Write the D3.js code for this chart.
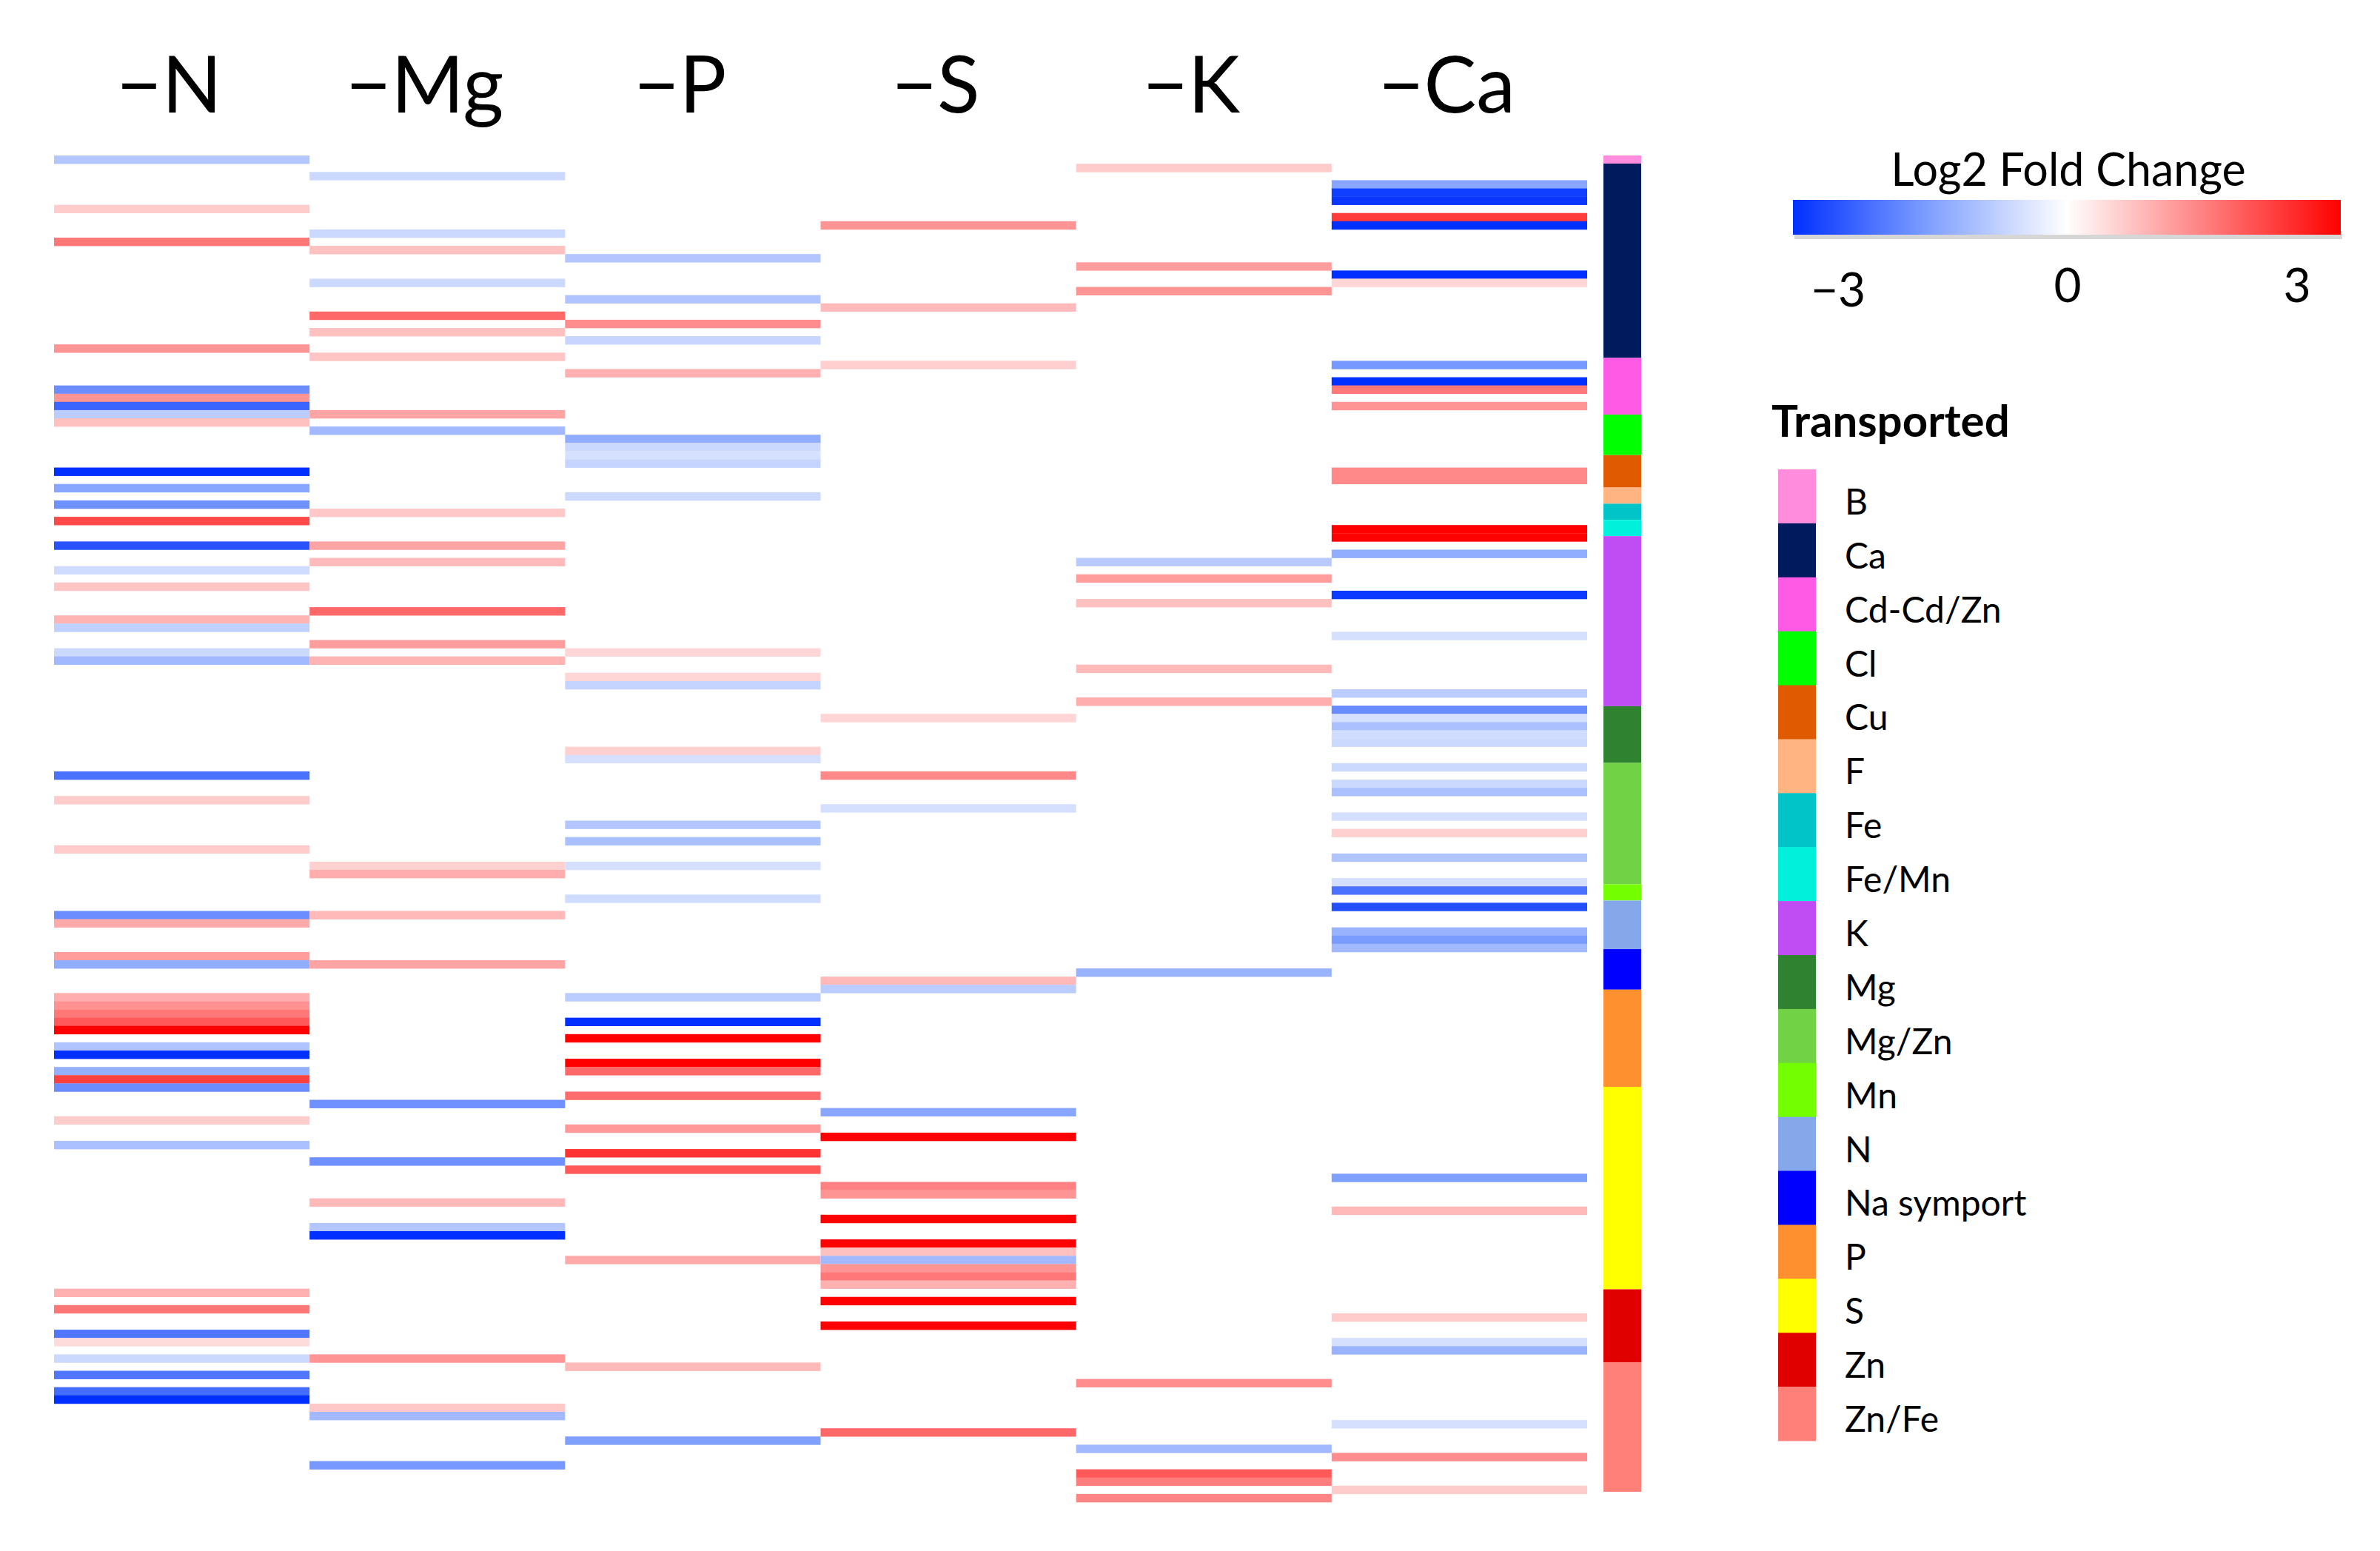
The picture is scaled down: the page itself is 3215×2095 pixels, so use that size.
<!DOCTYPE html>
<html>
<head>
<meta charset="utf-8">
<script src="https://cdn.jsdelivr.net/npm/d3@7"></script>
<style>
  body { margin: 0; background: #fff; }
  text { font-family: Lato, "Open Sans", sans-serif; fill: #000; }
</style>
</head>
<body>
<div id="chart"></div>
<script>
const conditions = ["\u2212N", "\u2212Mg", "\u2212P", "\u2212S", "\u2212K", "\u2212Ca"];
const rowCount = 165;

// [row, log2 fold change] - rows not listed are unchanged (white)
const minusN = [[1,-0.9],[7,0.6],[11,1.6],[24,1.26],[29,-1.75],[30,1.26],[31,-2.3],[32,-0.8],[33,0.74],
  [39,-3],[41,-1.4],[43,-1.7],[45,2.15],[48,-2.53],[51,-0.55],[53,0.7],[57,0.88],[58,-0.74],[61,-0.6],
  [62,-1.1],[76,-2.13],[79,0.62],[85,0.62],[93,-1.75],[94,1.0],[98,1.16],[99,-1.3],[103,0.97],[104,1.3],
  [105,1.6],[106,1.96],[107,3],[109,-0.93],[110,-3],[112,-1.26],[113,2.25],[114,-1.75],[118,0.6],
  [121,-1.0],[139,0.93],[141,1.6],[144,-2.06],[145,0.41],[147,-0.6],[149,-2.06],[151,-2.2],[152,-3]];
const minusMg = [[3,-0.6],[10,-0.6],[12,0.74],[16,-0.6],[20,1.78],[22,0.74],[25,0.7],[32,1.07],[34,-1.1],
  [44,0.65],[48,1.07],[50,0.8],[56,1.78],[60,1.16],[62,0.88],[87,0.55],[88,0.97],[93,0.83],[99,1.07],
  [116,-1.7],[123,-1.7],[128,0.83],[131,-0.9],[132,-3],[147,1.26],[153,0.65],[154,-1.1],[160,-1.6]];
const minusP = [[13,-0.9],[18,-0.93],[21,1.35],[23,-0.65],[27,0.93],[35,-1.3],[36,-0.6],[37,-0.48],[38,-0.7],
  [42,-0.6],[61,0.5],[64,0.5],[65,-0.7],[73,0.55],[74,-0.5],[82,-0.9],[84,-1.0],[87,-0.5],[91,-0.55],
  [103,-0.8],[106,-3],[108,3],[111,3],[112,1.78],[115,1.73],[119,1.2],[122,2.4],[124,1.96],[135,1.0],
  [148,0.83],[157,-1.5]];
const minusS = [[9,1.26],[19,0.8],[26,0.58],[69,0.5],[76,1.4],[80,-0.5],[101,0.83],[102,-0.8],[117,-1.4],
  [120,3],[126,1.5],[127,1.26],[130,3],[133,3],[134,0.74],[135,-1.1],[136,1.26],[137,1.6],[138,0.93],
  [140,3],[143,3],[156,1.78]];
const minusK = [[2,0.6],[14,1.16],[17,1.26],[50,-0.84],[52,1.16],[55,0.74],[63,0.83],[67,0.97],[100,-1.2],
  [150,1.35],[158,-1.1],[161,1.96],[162,1.54],[164,1.45]];
const minusCa = [[4,-1.4],[5,-2.8],[6,-2.9],[8,2.3],[9,-3],[15,-3],[16,0.5],[26,-1.6],[28,-3],[29,1.6],
  [31,1.26],[39,1.4],[40,1.4],[46,3],[47,3],[49,-1.3],[54,-2.86],[59,-0.5],[66,-0.8],[68,-1.78],[69,-0.5],
  [70,-1.0],[71,-0.55],[72,-0.6],[75,-0.6],[77,-0.6],[78,-1.0],[81,-0.5],[83,0.55],[86,-0.93],[89,-0.5],
  [90,-2.13],[92,-2.58],[95,-1.2],[96,-1.56],[97,-1.1],[125,-1.5],[129,0.83],[142,0.62],[145,-0.5],
  [146,-1.2],[155,-0.5],[159,1.35],[163,0.6]];
const columns = [minusN, minusMg, minusP, minusS, minusK, minusCa];

const groups = ["B", "Ca", "Cd-Cd/Zn", "Cl", "Cu", "F", "Fe", "Fe/Mn", "K", "Mg", "Mg/Zn", "Mn", "N",
  "Na symport", "P", "S", "Zn", "Zn/Fe"];
const groupSizes = [1, 24, 7, 5, 4, 2, 2, 2, 21, 7, 15, 2, 6, 5, 12, 25, 9, 16];
const groupColors = ["#ff8cdc", "#001a5e", "#ff5ae6", "#00ff00", "#e05a00", "#ffb482", "#00c4c8", "#00f0dc",
  "#c04cf4", "#2e8230", "#70d244", "#74ff00", "#84a8ea", "#0000ff", "#ff9030", "#ffff00", "#e00000", "#ff8078"];
const legendTicks = [-3, 0, 3];

const width = 3215;
const height = 2095;

const svg = d3.select("#chart")
  .append("svg")
  .attr("width", width)
  .attr("height", height)
  .style("background", "#fff");

const x = d3.scaleBand().domain(conditions).range([73, 2144]);
const y = d3.scaleBand().domain(d3.range(rowCount)).range([199, 2029]);
const yBar = d3.scaleBand().domain(d3.range(rowCount)).range([210, 2015]);

const color = d3.scaleLinear()
  .domain([-3, -1.5, 0, 1.5, 3])
  .range(["#0030ff", "#80a0ff", "#ffffff", "#ff8080", "#ff0000"])
  .clamp(true);

// column titles
svg.selectAll(".title")
  .data(conditions)
  .join("text")
  .attr("class", "title")
  .attr("x", d => x(d) + x.bandwidth() / 2 - 17)
  .attr("y", 152)
  .attr("text-anchor", "middle")
  .style("font-size", "106px")
  .text(d => d);

// heatmap cells
conditions.forEach((c, i) => {
  svg.append("g")
    .selectAll("rect")
    .data(columns[i])
    .join("rect")
    .attr("x", x(c))
    .attr("y", d => y(d[0]))
    .attr("width", x.bandwidth())
    .attr("height", y.bandwidth() + 0.3)
    .attr("fill", d => color(d[1]));
});

// group colour bar
let start = 0;
const segments = groups.map((g, i) => {
  const s = { name: g, start: start, size: groupSizes[i], color: groupColors[i] };
  start += groupSizes[i];
  return s;
});
svg.append("g")
  .selectAll("rect")
  .data(segments)
  .join("rect")
  .attr("x", 2166)
  .attr("width", 51)
  .attr("y", d => yBar(d.start))
  .attr("height", d => yBar(d.start + d.size - 1) + yBar.bandwidth() - yBar(d.start))
  .attr("fill", d => d.color);

// colour scale legend
const defs = svg.append("defs");
const grad = defs.append("linearGradient").attr("id", "fc-grad");
d3.range(-3, 3.01, 0.5).forEach(v => {
  grad.append("stop")
    .attr("offset", ((v + 3) / 6 * 100) + "%")
    .attr("stop-color", color(v));
});
const lx = d3.scaleLinear().domain([-3, 3]).range([2483, 3103]);

svg.append("rect")
  .attr("x", 2424).attr("y", 312).attr("width", 740).attr("height", 11)
  .attr("fill", "#d6d6d6");
svg.append("rect")
  .attr("x", 2422).attr("y", 270).attr("width", 740).attr("height", 47)
  .attr("fill", "url(#fc-grad)");
svg.append("text")
  .attr("x", 2794).attr("y", 251)
  .attr("text-anchor", "middle")
  .style("font-size", "61px")
  .text("Log2 Fold Change");
svg.selectAll(".tick-label")
  .data(legendTicks)
  .join("text")
  .attr("class", "tick-label")
  .attr("x", d => lx(d))
  .attr("y", d => d < 0 ? 414 : 408)
  .attr("text-anchor", "middle")
  .style("font-size", "64px")
  .text(d => d < 0 ? "\u2212" + Math.abs(d) : d);

// transported legend
svg.append("text")
  .attr("x", 2393).attr("y", 590)
  .style("font-size", "60px")
  .style("font-weight", "bold")
  .text("Transported");
const ly = d3.scaleBand().domain(groups).range([634, 1946]);
const items = svg.append("g")
  .selectAll("g")
  .data(segments)
  .join("g")
  .attr("transform", d => `translate(0,${ly(d.name)})`);
items.append("rect")
  .attr("x", 2402)
  .attr("width", 51)
  .attr("height", ly.bandwidth() + 0.5)
  .attr("fill", d => d.color);
items.append("text")
  .attr("x", 2492)
  .attr("y", ly.bandwidth() / 2 + 6)
  .attr("dominant-baseline", "central")
  .style("font-size", "48px")
  .text(d => d.name);
</script>
</body>
</html>
